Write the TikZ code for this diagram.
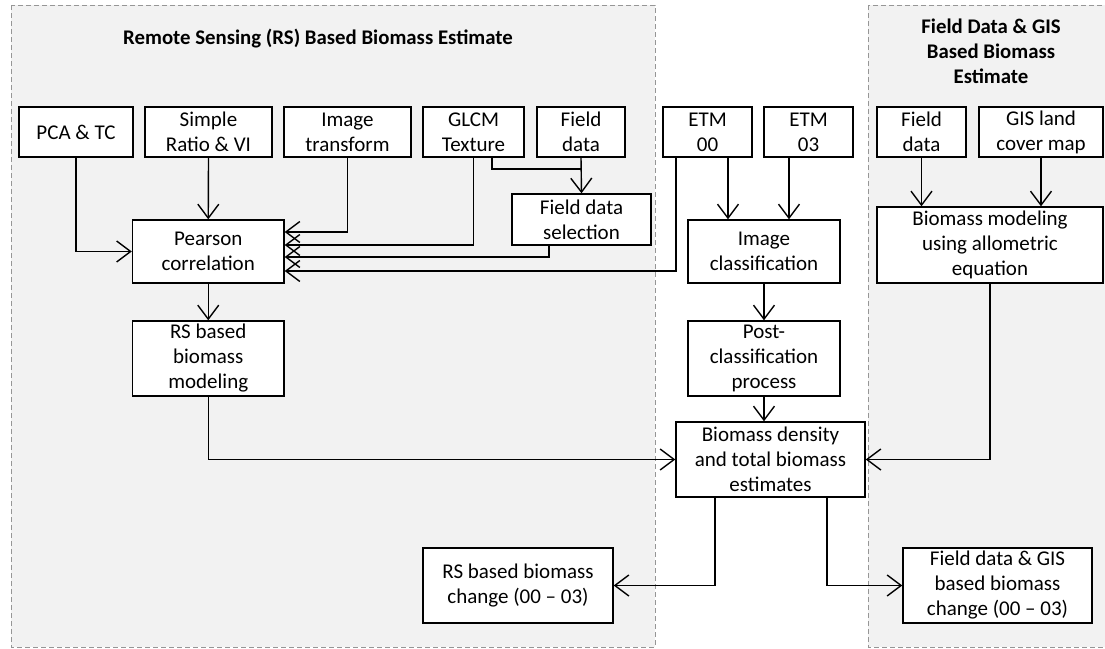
\documentclass[tikz,border=0pt]{standalone}
\usepackage{fontspec}
\setmainfont{Carlito}
\usetikzlibrary{arrows.meta}
\definecolor{regfill}{HTML}{F2F2F2}
\definecolor{regline}{HTML}{969696}
\tikzset{
  box/.style={draw=black, fill=white, line width=1.4pt, align=center, inner sep=0pt, font=\fontsize{21}{25}\selectfont},
  conn/.style={draw=black, line width=1.4pt, -{Straight Barb[length=14pt,width=21pt,line width=1.4pt]}},
  plain/.style={draw=black, line width=1.4pt},
  region/.style={draw=regline, fill=regfill, line width=1pt, dash pattern=on 5pt off 3pt},
  ttl/.style={font=\fontsize{20.8}{25}\selectfont\bfseries, align=center, inner sep=0pt}
}
\begin{document}
\begin{tikzpicture}[x=1pt,y=-1pt]
\useasboundingbox (0,0) rectangle (1105,648);
% regions
\path[region] (11,5) rectangle (655,647);
\path[region] (868,5) rectangle (1115,647);
\node[ttl] (t1) at (318,39) {Remote Sensing (RS) Based Biomass Estimate};
\node[ttl] (t2) at (991,51) {Field Data \& GIS\\Based Biomass\\Estimate};
% top row
\node[box, minimum width=114pt, minimum height=50pt] (pca) at (76,132) {PCA \& TC};
\node[box, minimum width=127pt, minimum height=50pt] (sr) at (208.5,132) {Simple\\Ratio \& VI};
\node[box, minimum width=127pt, minimum height=50pt] (it) at (347.5,132) {Image\\transform};
\node[box, minimum width=101pt, minimum height=50pt] (glcm) at (473.5,132) {GLCM\\Texture};
\node[box, minimum width=88pt, minimum height=50pt] (fd) at (581,132) {Field\\data};
\node[box, minimum width=89pt, minimum height=50pt] (etma) at (707.5,132) {ETM\\00};
\node[box, minimum width=89pt, minimum height=50pt] (etmb) at (808.5,132) {ETM\\03};
\node[box, minimum width=89pt, minimum height=50pt] (fdr) at (921.5,132) {Field\\data};
\node[box, minimum width=124pt, minimum height=50pt] (gis) at (1041,132) {GIS land\\cover map};
% second row
\node[box, minimum width=151.5pt, minimum height=63pt] (pear) at (208.25,251.5) {Pearson\\correlation};
\node[box, minimum width=139pt, minimum height=51pt] (fds) at (581.5,219.5) {Field data\\selection};
\node[box, minimum width=152pt, minimum height=63pt] (ic) at (764,251.5) {Image\\classification};
\node[box, minimum width=226pt, minimum height=76pt] (allo) at (990,245) {Biomass modeling\\using allometric\\equation};
% third row
\node[box, minimum width=151.5pt, minimum height=75pt] (rsm) at (208.25,358.5) {RS based\\biomass\\modeling};
\node[box, minimum width=152pt, minimum height=75pt] (post) at (764,358.5) {Post-\\classification\\process};
\node[box, minimum width=189pt, minimum height=75pt] (bde) at (770.5,459.5) {Biomass density\\and total biomass\\estimates};
\node[box, minimum width=190pt, minimum height=75pt] (rsc) at (518,585.5) {RS based biomass\\change (00 -- 03)};
\node[box, minimum width=189pt, minimum height=75pt] (fgc) at (997.5,585.5) {Field data \& GIS\\based biomass\\change (00 -- 03)};
% connectors
\coordinate (g1) at (492,157);
\coordinate (e1) at (676,157);
\coordinate (e2) at (728,157);
\coordinate (e3) at (789,157);
\coordinate (s1) at (549,245);
\coordinate (b1) at (715,497);
\coordinate (b2) at (827,497);
\draw[conn] (pca.south) |- (pear.west);
\draw[conn] (sr.south) -- (pear.north);
\draw[conn] (it.south) |- (pear.east |- 0,232);
\draw[conn] (glcm.south) |- (pear.east |- 0,245);
\draw[conn] (s1) |- (pear.east |- 0,257);
\draw[conn] (e1) |- (pear.east |- 0,271);
\draw[plain] (g1) |- (fd.south |- 0,169);
\draw[conn] (fd.south) -- (fds.north);
\draw[conn] (e2) -- (e2 |- ic.north);
\draw[conn] (e3) -- (e3 |- ic.north);
\draw[conn] (ic.south) -- (post.north);
\draw[conn] (post.south) -- (post.south |- bde.north);
\draw[conn] (pear.south) -- (rsm.north);
\draw[conn] (fdr.south) -- (fdr.south |- allo.north);
\draw[conn] (gis.south) -- (gis.south |- allo.north);
\draw[conn] (rsm.south) |- (bde.west);
\draw[conn] (allo.south) |- (bde.east);
\draw[conn] (b1) |- (rsc.east);
\draw[conn] (b2) |- (fgc.west);
\end{tikzpicture}
\end{document}
